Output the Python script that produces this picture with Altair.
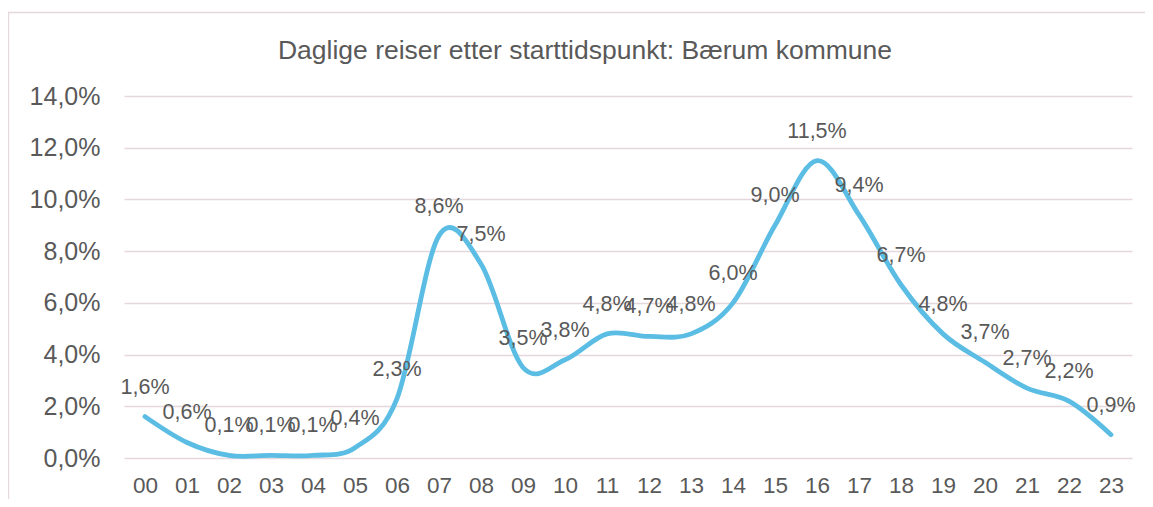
import altair as alt
import pandas as pd

hours = ["00", "01", "02", "03", "04", "05", "06", "07", "08", "09", "10", "11",
         "12", "13", "14", "15", "16", "17", "18", "19", "20", "21", "22", "23"]
shares = [1.6, 0.6, 0.1, 0.1, 0.1, 0.4, 2.3, 8.6, 7.5, 3.5, 3.8, 4.8,
          4.7, 4.8, 6.0, 9.0, 11.5, 9.4, 6.7, 4.8, 3.7, 2.7, 2.2, 0.9]
y_ticks = [0, 2, 4, 6, 8, 10, 12, 14]
title_text = ["Daglige reiser etter starttidspunkt: Bærum kommune"]

FONT = "Liberation Sans"
TEXT = "#595959"
GRID = "#E5D8DD"
LINE = "#5BBDE3"

df = pd.DataFrame({"hour": hours, "share": shares})

x = alt.X("hour:O", sort=hours,
          scale=alt.Scale(type="point", padding=0.5),
          axis=alt.Axis(title=None, labelAngle=0, ticks=False, domain=False,
                        grid=False, labelFontSize=22.5, labelPadding=16,
                        labelColor=TEXT, labelFont=FONT))
y = alt.Y("share:Q",
          scale=alt.Scale(domain=[0, 14], nice=False, zero=True),
          axis=alt.Axis(title=None, values=y_ticks, ticks=False, domain=False,
                        labelExpr="replace(format(datum.value, '.1f'), '.', ',') + '%'",
                        gridColor=GRID, gridWidth=1.3, labelFontSize=25,
                        labelPadding=24, labelColor=TEXT, labelFont=FONT))

line = alt.Chart(df).mark_line(
    interpolate="cardinal", color=LINE, strokeWidth=4.8, strokeCap="round"
).encode(x=x, y=y)

labels = alt.Chart(df).transform_calculate(
    lbl="replace(format(datum.share, '.1f'), '.', ',') + '%'"
).mark_text(
    dy=-29, fontSize=21.5, color=TEXT, font=FONT, baseline="middle"
).encode(x=x, y=y, text="lbl:N")

title = alt.Chart(pd.DataFrame({"t": title_text})).mark_text(
    fontSize=26.5, font=FONT, color=TEXT, baseline="alphabetic", align="center"
).encode(text="t:N", x=alt.value(461), y=alt.value(-37))

frame_df = pd.DataFrame({"a": [0]})
border_left = alt.Chart(frame_df).mark_rule(color=GRID, strokeWidth=1.3).encode(
    x=alt.value(-115.5), y=alt.value(-84), y2=alt.value(420))
border_top = alt.Chart(frame_df).mark_rule(color=GRID, strokeWidth=1.3).encode(
    x=alt.value(-116), x2=alt.value(1030), y=alt.value(-83.5))

chart = alt.layer(border_left, border_top, title, line, labels).properties(
    width=1008, height=362,
    autosize=alt.AutoSizeParams(type="none"),
    padding={"left": 116, "top": 88, "right": 13, "bottom": 41},
).configure_view(stroke=None)

chart.save("out.html", embed_options={"renderer": "svg", "actions": False})
